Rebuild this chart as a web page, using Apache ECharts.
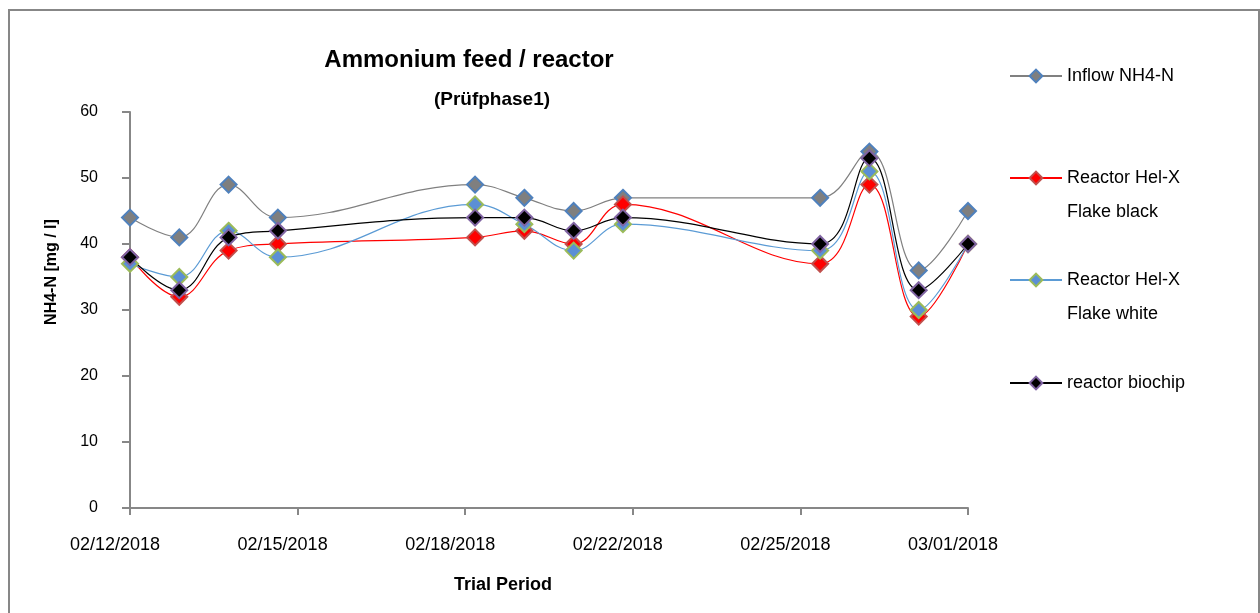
<!DOCTYPE html>
<html>
<head>
<meta charset="utf-8">
<script src="https://cdn.jsdelivr.net/npm/echarts@6/dist/echarts.min.js"></script>
<style>
  html, body { margin: 0; padding: 0; background: #fff; }
  #main { width: 1260px; height: 613px; }
</style>
</head>
<body>
<div id="main"></div>
<script>
// 采样日期
var dates = ['2018-02-12', '2018-02-13', '2018-02-14', '2018-02-15', '2018-02-19', '2018-02-20',
    '2018-02-21', '2018-02-22', '2018-02-26', '2018-02-27', '2018-02-28', '2018-03-01'];
// 横轴刻度标签
var tickLabels = ['02/12/2018', '02/15/2018', '02/18/2018', '02/22/2018', '02/25/2018', '03/01/2018'];

var inflow = [44, 41, 49, 44, 49, 47, 45, 47, 47, 54, 36, 45];
var flakeBlack = [38, 32, 39, 40, 41, 42, 40, 46, 37, 49, 29, 40];
var flakeWhite = [37, 35, 42, 38, 46, 43, 39, 43, 39, 51, 30, 40];
var biochip = [38, 33, 41, 42, 44, 44, 42, 44, 40, 53, 33, 40];

var DAY = 24 * 3600 * 1000;
var start = Date.parse(dates[0]);

function toPoints(values) {
    return values.map(function (v, i) {
        return [(Date.parse(dates[i]) - start) / DAY, v];
    });
}

var fontFamily = 'Liberation Sans, Arial, sans-serif';

function lineSeries(name, values, lineColor, fill, border) {
    return {
        name: name,
        type: 'line',
        data: toPoints(values),
        smooth: 0.4,
        symbol: 'diamond',
        symbolSize: 16,
        lineStyle: { color: lineColor, width: 1.2 },
        itemStyle: { color: fill, borderColor: border, borderWidth: 2 },
        emphasis: { disabled: true }
    };
}

// 图例逐项定位，两行的名字前加空行使首行对齐图标
function legendItem(name, top, twoLines) {
    return {
        orient: 'vertical',
        left: 1009,
        top: top,
        padding: 0,
        itemWidth: 52,
        itemHeight: 16,
        data: [name],
        formatter: function (n) {
            return twoLines ? '\n' + n : n;
        },
        textStyle: {
            fontFamily: fontFamily,
            fontSize: 18,
            color: '#000',
            lineHeight: 34
        }
    };
}

var chart = echarts.init(document.getElementById('main'));

var option = {
    animation: false,
    backgroundColor: '#fff',
    grid: {
        left: 130,
        right: 292,
        top: 112,
        bottom: 105
    },
    graphic: [
        {
            type: 'rect',
            shape: { x: 9, y: 10, width: 1250, height: 620 },
            style: { fill: 'none', stroke: '#878787', lineWidth: 2 }
        },
        {
            type: 'text', x: 469, y: 60,
            style: { text: 'Ammonium feed / reactor', align: 'center', verticalAlign: 'middle',
                font: 'bold 24px ' + fontFamily, fill: '#000' }
        },
        {
            type: 'text', x: 492, y: 100,
            style: { text: '(Prüfphase1)', align: 'center', verticalAlign: 'middle',
                font: 'bold 19px ' + fontFamily, fill: '#000' }
        },
        {
            type: 'text', x: 503, y: 585,
            style: { text: 'Trial Period', align: 'center', verticalAlign: 'middle',
                font: 'bold 18px ' + fontFamily, fill: '#000' }
        },
        {
            type: 'text', x: 52, y: 272, rotation: Math.PI / 2,
            style: { text: 'NH4-N [mg / l]', align: 'center', verticalAlign: 'middle',
                font: 'bold 16px ' + fontFamily, fill: '#000' }
        }
    ],
    legend: [
        legendItem('Inflow NH4-N', 59, false),
        legendItem('Reactor Hel-X\nFlake black', 127, true),
        legendItem('Reactor Hel-X\nFlake white', 229, true),
        legendItem('reactor biochip', 366, false)
    ],
    xAxis: {
        type: 'value',
        min: 0,
        max: 17,
        interval: 3.4,
        axisLine: { lineStyle: { color: '#878787', width: 2 } },
        axisTick: { show: true, length: 7, lineStyle: { color: '#878787', width: 2 } },
        splitLine: { show: false },
        axisLabel: {
            margin: 28,
            fontSize: 18,
            fontFamily: fontFamily,
            color: '#000',
            padding: [0, 30, 0, 0],
            showMinLabel: true,
            showMaxLabel: true,
            formatter: function (v) {
                return tickLabels[Math.round(v / 3.4)];
            }
        }
    },
    yAxis: {
        type: 'value',
        min: 0,
        max: 60,
        interval: 10,
        axisLine: { show: true, lineStyle: { color: '#878787', width: 2 } },
        axisTick: { show: true, length: 8, lineStyle: { color: '#878787', width: 2 } },
        splitLine: { show: false },
        axisLabel: {
            margin: 32,
            fontSize: 16,
            fontFamily: fontFamily,
            color: '#000'
        }
    },
    series: [
        lineSeries('Inflow NH4-N', inflow, '#808080', '#7f7f7f', '#4f81bd'),
        lineSeries('Reactor Hel-X\nFlake black', flakeBlack, '#ff0000', '#ff0000', '#c0504d'),
        lineSeries('Reactor Hel-X\nFlake white', flakeWhite, '#5b9bd5', '#5b8fd5', '#9bbb59'),
        lineSeries('reactor biochip', biochip, '#000000', '#000000', '#8064a2')
    ]
};

chart.setOption(option);
</script>
</body>
</html>
